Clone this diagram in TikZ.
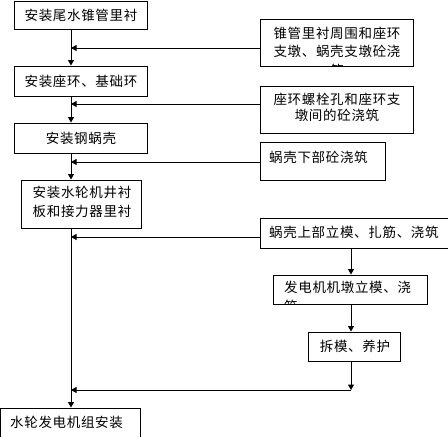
\documentclass[tikz,border=0pt]{standalone}
\usepackage{fontspec}
\newfontfamily\cjk[LetterSpace=5]{Noto Sans CJK SC}
\usetikzlibrary{arrows.meta}
\begin{document}
\begin{tikzpicture}[x=1pt,y=-1pt,
  box/.style={draw,line width=1pt,inner sep=0pt},
  txt/.style={inner sep=0pt,font=\cjk\fontsize{13.5}{18.5}\selectfont},
  arr/.style={line width=1pt,-{Triangle[length=5.5pt,width=6pt]}},
  ln/.style={line width=1pt}]
\clip (0,0) rectangle (448,437);
\fill[white] (0,0) rectangle (448,437);
% left column boxes
\node[box,minimum width=133pt,minimum height=28pt] (b1) at (80.5,15) {};
\node[box,minimum width=133pt,minimum height=30pt] (b2) at (80.5,81) {};
\node[box,minimum width=133pt,minimum height=30pt] (b3) at (80.5,138) {};
\node[box,minimum width=120pt,minimum height=48pt] (b4) at (81,204) {};
\node[box,minimum width=139.5pt,minimum height=42pt] (b5) at (70.25,429) {};
% right column boxes
\node[box,minimum width=153pt,minimum height=47pt] (r1) at (336.5,42.5) {};
\node[box,minimum width=153pt,minimum height=47pt] (r2) at (336.5,109.5) {};
\node[box,minimum width=125pt,minimum height=38pt] (r3) at (322.5,161) {};
\node[box,minimum width=210pt,minimum height=30pt] (r4) at (365,233) {};
\node[box,minimum width=154pt,minimum height=29pt] (r5) at (350,289.5) {};
\node[box,minimum width=92pt,minimum height=29pt] (r6) at (354,346.5) {};
% texts
\node[txt] (t1) at (81,15) {安装尾水锥管里衬};
\node[txt] (t2) at (81,81) {安装座环、基础环};
\node[txt] (t3) at (81,138) {安装钢蜗壳};
\node[txt,align=center] (t4) at (82,202) {安装水轮机井衬\\板和接力器里衬};
\node[txt,anchor=west] (t5) at (10,422) {水轮发电机组安装};
\begin{scope}
\clip (r1.north west) rectangle (r1.south east);
\node[txt,align=center] (u1) at (337,51.5) {锥管里衬周围和座环\\支墩、蜗壳支墩砼浇\\筑};
\end{scope}
\node[txt,align=center,font=\cjk\fontsize{13.5}{16}\selectfont] (u2) at (337,107.5) {座环螺栓孔和座环支\\墩间的砼浇筑};
\node[txt,anchor=west] (u3) at (269,157) {蜗壳下部砼浇筑};
\node[txt,anchor=west] (u4) at (269,232) {蜗壳上部立模、扎筋、浇筑};
\begin{scope}
\clip (r5.north west) rectangle (r5.south east);
\node[txt,align=left,anchor=north west] (u5) at (284,281) {发电机机墩立模、浇\\筑};
\end{scope}
\node[txt] (u6) at (355,346) {拆模、养护};
% junction coordinates
\coordinate (mx) at (71,0);
\coordinate (rx) at (351,0);
\coordinate (j1) at (71,48);
\coordinate (j2) at (71,104);
\coordinate (j3) at (71,162);
\coordinate (j4) at (71,237);
\coordinate (j5) at (71,390);
\coordinate (k5) at (351,390);
% main vertical flow
\draw[arr] (b1.south -| mx) -- (b2.north -| mx);
\draw[arr] (b2.south -| mx) -- (b3.north -| mx);
\draw[arr] (b3.south -| mx) -- (b4.north -| mx);
\draw[arr] (b4.south -| mx) -- (b5.north -| mx);
% feeds from right
\draw[arr] (r1.west |- j1) -- (j1);
\draw[arr] (r2.west |- j2) -- (j2);
\draw[arr] (r3.west |- j3) -- (j3);
\draw[arr] (r4.west |- j4) -- (j4);
% right vertical flow
\draw[arr] (r4.south -| rx) -- (r5.north -| rx);
\draw[arr] (r5.south -| rx) -- (r6.north -| rx);
\draw[arr] (r6.south -| rx) -- (k5);
\draw[arr] (k5) -- (j5);
\end{tikzpicture}
\end{document}
